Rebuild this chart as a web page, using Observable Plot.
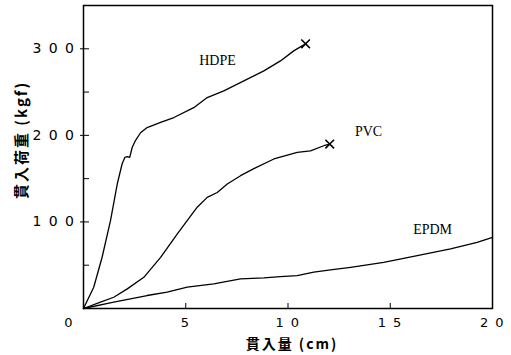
<!DOCTYPE html>
<html><head><meta charset="utf-8">
<script src="https://cdn.jsdelivr.net/npm/d3@7"></script>
<script src="https://cdn.jsdelivr.net/npm/@observablehq/plot@0.6"></script>
<style>
body{margin:0;background:#fff}
</style>
</head><body><div id="chart"></div>
<script>
// Data (x: penetration cm, y: load kgf)
const hdpeX = [0, 0.50, 0.91, 1.32, 1.65, 1.89, 2.02, 2.14, 2.26, 2.38, 2.54, 2.79, 3.11, 3.77, 4.42, 5.39, 6.05, 6.86, 7.84, 8.82, 9.63, 10.28, 10.69, 10.86];
const hdpeY = [0, 24.6, 59.2, 101.5, 143.8, 167.2, 174.5, 175.3, 174.5, 186, 194, 203, 209, 215, 220.6, 232, 243.7, 251.4, 263, 274.5, 286, 297.6, 303.3, 305.7];
const pvcX = [0, 0.83, 1.48, 2.14, 2.95, 3.77, 4.58, 5.07, 5.56, 6.05, 6.54, 7.03, 7.68, 8.33, 9.31, 10.45, 11.1, 11.75, 12.04];
const pvcY = [0, 7.3, 13, 22.7, 36, 59, 86, 101.5, 117, 128.4, 134, 143.8, 153.4, 161.5, 172.7, 180.4, 182, 188, 190];
const epdmX = [0, 1.48, 3.11, 4.09, 5.07, 6.37, 7.68, 8.82, 9.63, 10.45, 11.26, 12.08, 13.06, 14.68, 16.32, 17.95, 19.25, 20];
const epdmY = [0, 7.3, 15, 18.8, 24.6, 28.5, 34.3, 35.4, 36.9, 38, 41.9, 44.6, 47.6, 53.4, 61.1, 68.9, 76.5, 82.2];

const seriesNames = ["HDPE", "PVC", "EPDM"];
const labelX = [6.55, 13.94, 17.07];
const labelY = [286, 204, 91];
const breakX = [10.86, 12.04];
const breakY = [305.7, 190];

const xTicks = [5, 10, 15, 20];
const yTicks = [100, 200, 300];
const yMinorTicks = [50, 100, 150, 200, 250, 300];
const xMinorTicks = [5, 10, 15];
const xTitle = "貫入量 (cm)";
const yTitle = "貫入荷重 (kgf)";

const rows = [];
[[hdpeX, hdpeY, "HDPE"], [pvcX, pvcY, "PVC"], [epdmX, epdmY, "EPDM"]].forEach(([xs, ys, s]) => {
  xs.forEach((x, i) => rows.push({x, y: ys[i], s}));
});
const labels = seriesNames.map((n, i) => ({n, x: labelX[i], y: labelY[i]}));
const breaks = breakX.map((x, i) => ({x, y: breakY[i]}));
const spaced = d => String(d).split("").join(" ");
const blank = () => "";

const tickFont = "DejaVu Sans, sans-serif";
const cjkFont = "Noto Sans CJK JP, sans-serif";
const chart = Plot.plot({
  width: 511, height: 355,
  marginLeft: 83, marginRight: 19, marginTop: 5, marginBottom: 47,
  x: {domain: [0, 20]},
  y: {domain: [0, 350]},
  style: {background: "#fff", color: "#000"},
  marks: [
    Plot.frame({stroke: "#000", strokeWidth: 1.5}),
    Plot.axisY({ticks: yTicks, tickSize: 3, tickPadding: 5, tickFormat: spaced, fontSize: 14, fontFamily: tickFont, label: null}),
    Plot.axisY({ticks: yMinorTicks, tickSize: -6, tickFormat: blank, label: null}),
    Plot.axisX({ticks: xMinorTicks, tickSize: -5, tickFormat: blank, label: null}),
    Plot.axisX({ticks: xTicks, tickSize: 0, tickPadding: 9, tickFormat: spaced, fontSize: 13, fontFamily: tickFont, label: null}),
    Plot.text([0], {x: 0, y: 0, text: d => String(d), dx: -15, dy: 14, fontSize: 13, fontFamily: tickFont}),
    Plot.line(rows, {x: "x", y: "y", z: "s", stroke: "#000", strokeWidth: 1.3}),
    Plot.dot(breaks, {x: "x", y: "y", symbol: "times", r: 4, stroke: "#000", strokeWidth: 1.6}),
    Plot.text(labels, {x: "x", y: "y", text: "n", fontSize: 14, fontFamily: "Liberation Sans Narrow, Liberation Serif, serif"}),
    Plot.text([xTitle], {frameAnchor: "bottom", dy: 40, dx: 4, fontSize: 14, fontWeight: "bold", fontFamily: cjkFont, className: "ttl"}),
    Plot.text([yTitle], {frameAnchor: "left", textAnchor: "middle", rotate: -90, dx: -61, dy: -17, fontSize: 15, fontWeight: "bold", fontFamily: cjkFont, className: "ttl"})
  ]
});
d3.select(chart).selectAll('g[aria-label="y-axis tick label"] text, g[aria-label="x-axis tick label"] text').attr("letter-spacing", 1.5);
d3.select(chart).selectAll('.ttl text').attr("letter-spacing", 2);
document.getElementById("chart").appendChild(chart);
</script>
</body></html>
